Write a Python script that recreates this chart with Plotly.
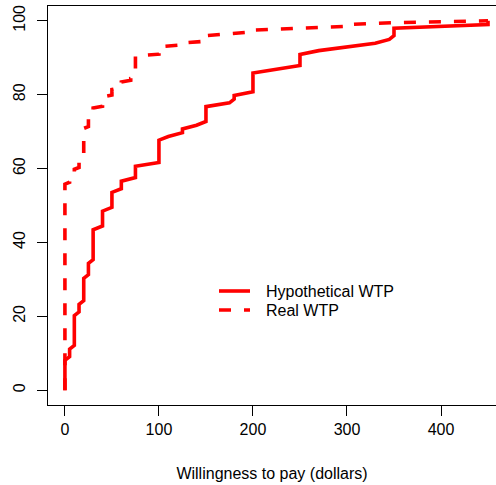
import numpy as np
import plotly.graph_objects as go

# Hypothetical WTP: distinct values (dollars) and number of respondents at each value
hyp_values = [0, 5, 10, 15, 20, 25, 30, 40, 50, 60, 75, 100, 110, 125, 140, 150,
              175, 180, 200, 225, 250, 270, 300, 330, 345, 350, 450]
hyp_counts = [9, 3, 9, 3, 7, 4, 9, 5, 5, 3, 4, 7, 1, 2, 1, 5,
              1, 2, 6, 1, 4, 1, 1, 1, 1, 3, 2]

# Real WTP: distinct values (dollars) and number of respondents at each value
real_values = [0, 5, 10, 15, 20, 25, 30, 40, 50, 60, 70, 75, 100, 125, 150,
               175, 200, 250, 300, 350, 450]
real_counts = [112, 3, 5, 7, 15, 7, 4, 6, 4, 4, 2, 12, 5, 2, 4,
               1, 2, 1, 2, 1, 1]

x_ticks = [0, 100, 200, 300, 400]
y_ticks = [0, 20, 40, 60, 80, 100]
legend_labels = ["Hypothetical WTP", "Real WTP"]


def cumulative(values, counts):
    xs = np.repeat(values, counts)
    n = len(xs)
    ys = np.arange(n) / (n - 1) * 100.0
    return xs, ys


hx, hy = cumulative(hyp_values, hyp_counts)
rx, ry = cumulative(real_values, real_counts)

RED = "#ff0000"
DASH = "12px,13px"
LW = 3.6
FONT = "Liberation Sans, Arial, sans-serif"
W, H = 496, 485
ML, MR, MT, MB = 48, 0, 6, 80
PW, PH = W - ML - MR, H - MT - MB


def px_x(p):
    return (p - ML) / PW


def px_y(p):
    return (H - MB - p) / PH


fig = go.Figure()
fig.add_trace(go.Scatter(x=hx, y=hy, mode="lines", name=legend_labels[0],
                         line=dict(color=RED, width=LW), showlegend=False))
fig.add_trace(go.Scatter(x=rx, y=ry, mode="lines", name=legend_labels[1],
                         line=dict(color=RED, width=LW, dash=DASH), showlegend=False))

# Legend drawn as line samples plus text labels
legend_rows = [(291, None), (310, DASH)]
for (row_y, dash), label in zip(legend_rows, legend_labels):
    fig.add_shape(type="line", xref="paper", yref="paper",
                  x0=px_x(219), x1=px_x(250), y0=px_y(row_y), y1=px_y(row_y),
                  line=dict(color=RED, width=LW, dash=dash))
    fig.add_annotation(xref="paper", yref="paper", x=px_x(264), y=px_y(row_y),
                       xanchor="left", yanchor="middle", showarrow=False,
                       text=label, font=dict(family=FONT, size=16, color="#000"))

fig.update_layout(
    width=W, height=H,
    margin=dict(l=ML, r=MR, t=MT, b=MB),
    plot_bgcolor="white", paper_bgcolor="white",
    font=dict(family=FONT, size=16, color="#000"),
    showlegend=False,
    xaxis=dict(range=[-18, 458.5], tickvals=x_ticks, ticks="outside",
               ticklen=10, tickwidth=1, tickcolor="#000",
               showline=True, linecolor="#000", linewidth=1, mirror=True,
               showgrid=False, zeroline=False,
               tickfont=dict(family=FONT, size=16, color="#000"),
               title=dict(text="Willingness to pay (dollars)", standoff=30,
                          font=dict(family=FONT, size=16, color="#000"))),
    yaxis=dict(range=[-4, 104], tickvals=y_ticks, ticks="outside",
               ticklen=10, tickwidth=1, tickcolor="#000",
               showline=True, linecolor="#000", linewidth=1, mirror=False,
               showgrid=False, zeroline=False, tickangle=-90,
               ticklabelstandoff=6,
               tickfont=dict(family=FONT, size=16, color="#000")),
)

fig.write_html("out.html", config={"displayModeBar": False},
               post_script="document.body.style.margin='0px';")
